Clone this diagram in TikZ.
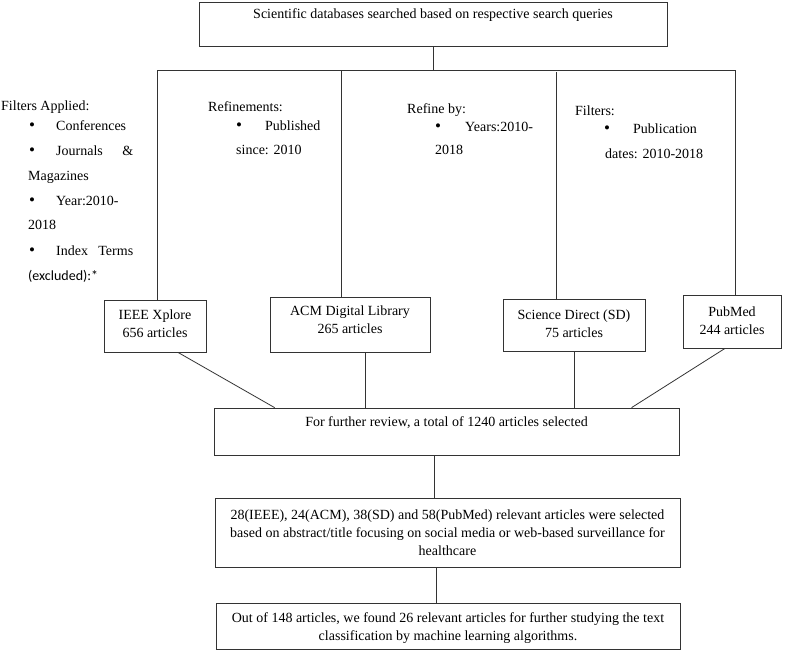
\documentclass[tikz,border=0pt]{standalone}
\usepackage{fontspec}
\setmainfont{Liberation Serif}
\newfontfamily\calib{Carlito}
\begin{document}
\begin{tikzpicture}[x=1pt,y=-1pt,
  box/.style={draw=black!80, line width=0.8pt, inner sep=0},
  conn/.style={draw=black!80, line width=0.8pt},
  txt/.style={inner sep=0, font=\fontsize{14}{18}\selectfont, align=center},
  ltxt/.style={inner sep=0, anchor=west, font=\fontsize{14}{18}\selectfont, text height=10pt, text depth=3pt},
  bul/.style={inner sep=0, anchor=west, font=\fontsize{17}{18}\selectfont, text height=10pt, text depth=3pt},
]
\useasboundingbox (0,0) rectangle (785,651);

% boxes
\node[box, minimum width=468, minimum height=44] (top) at (433,24) {};
\node[txt] (toptxt) at (433,15) {Scientific databases searched based on respective search queries};

\node[box, minimum width=102, minimum height=52] (ieee) at (155,326) {};
\node[txt] (ieeetxt) at (155,324) {IEEE Xplore\\656 articles};

\node[box, minimum width=160, minimum height=55] (acm) at (350,324.5) {};
\node[txt] (acmtxt) at (350,320) {ACM Digital Library\\265 articles};

\node[box, minimum width=142, minimum height=52] (sd) at (574,325) {};
\node[txt] (sdtxt) at (574,323.5) {Science Direct (SD)\\75 articles};

\node[box, minimum width=98, minimum height=53] (pub) at (732,321.5) {};
\node[txt] (pubtxt) at (732,321) {PubMed\\244 articles};

\node[box, minimum width=465, minimum height=47] (big) at (446.5,431.5) {};
\node[txt] (bigtxt) at (446.5,423) {For further review, a total of 1240 articles selected};

\node[box, minimum width=465, minimum height=69] (sec) at (447.5,532.5) {};
\node[txt] (sectxt) at (447.5,532.5) {28(IEEE), 24(ACM), 38(SD) and 58(PubMed) relevant articles were selected\\based on abstract/title focusing on social media or web-based surveillance for\\healthcare};

\node[box, minimum width=464, minimum height=46] (third) at (448,626) {};
\node[txt] (thirdtxt) at (448,628) {Out of 148 articles, we found 26 relevant articles for further studying the text\\classification by machine learning algorithms.};

% bus
\coordinate (b1) at (157,70);
\coordinate (b2) at (341,70);
\coordinate (b3) at (556,70);
\coordinate (b4) at (735,70);
\draw[conn] (b1) -- (b4);
\draw[conn] (top.south) -- (top.south |- b1);
\draw[conn] (b1) -- (b1 |- ieee.north);
\draw[conn] (b2) -- (b2 |- acm.north);
\draw[conn] ([yshift=-2]b3) -- (b3 |- sd.north);
\draw[conn] (b4) -- (b4 |- pub.north);

% lower connectors
\draw[conn] ([xshift=23]ieee.south) -- ([xshift=61]big.north west);
\draw[conn] ([xshift=15]acm.south) -- ([xshift=15]acm.south |- big.north);
\draw[conn] (sd.south) -- (sd.south |- big.north);
\draw[conn] ([xshift=-7]pub.south) -- ([xshift=418]big.north west);
\draw[conn] ([xshift=-12.5]big.south) -- ([xshift=-12.5]big.south |- sec.north);
\draw[conn] ([xshift=-11.5]sec.south) -- ([xshift=-11.5]sec.south |- third.north);

% left filters
\node[ltxt] (l1) at (1,107) {Filters Applied:};
\node[bul] (l2b) at (29,127) {•};
\node[ltxt] (l2) at (56,127) {Conferences};
\node[bul] (l3b) at (29,152) {•};
\node[ltxt] (l3) at (56,152) {\makebox[77pt][l]{Journals\hfill\&}};
\node[ltxt] (l4) at (28,177) {Magazines};
\node[bul] (l5b) at (29,202) {•};
\node[ltxt] (l5) at (56,202) {Year:2010-};
\node[ltxt] (l6) at (28,226) {2018};
\node[bul] (l7b) at (29,252) {•};
\node[ltxt] (l7) at (56,252) {\makebox[77pt][l]{Index\hfill Terms}};
\node[ltxt] (l8) at (28,277) {\calib (excluded):*};

% refinements
\node[ltxt] (r1) at (208,108) {Refinements:};
\node[bul] (r2b) at (236,127) {•};
\node[ltxt] (r2) at (265,127) {Published};
\node[ltxt] (r3) at (236,151) {since: 2010};

% refine by
\node[ltxt] (s1) at (407,110) {Refine by:};
\node[bul] (s2b) at (435,128) {•};
\node[ltxt] (s2) at (465,128) {Years:2010-};
\node[ltxt] (s3) at (435,151) {2018};

% filters
\node[ltxt] (f1) at (575,112) {Filters:};
\node[bul] (f2b) at (604,130) {•};
\node[ltxt] (f2) at (633,130) {Publication};
\node[ltxt] (f3) at (605,155) {dates: 2010-2018};
\end{tikzpicture}
\end{document}
